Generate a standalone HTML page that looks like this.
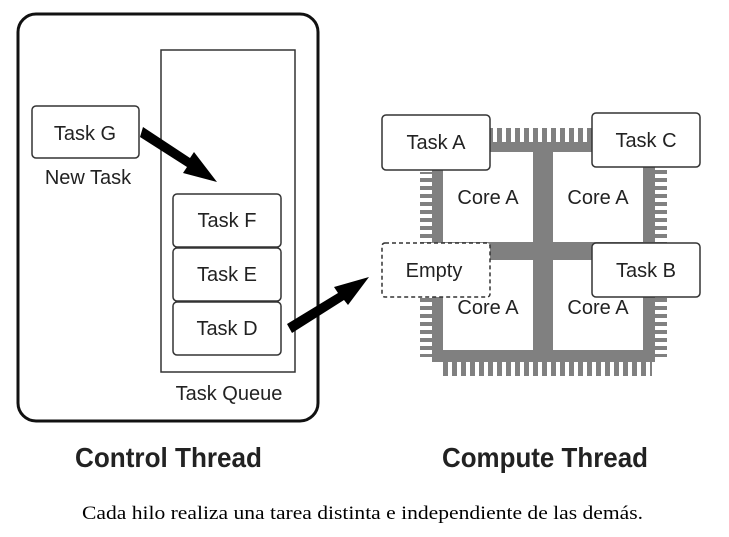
<!DOCTYPE html>
<html><head><meta charset="utf-8"><style>
html,body{margin:0;padding:0;background:#fff;}
svg{display:block;}
.t{font-family:"Liberation Sans Narrow","Liberation Sans",sans-serif;font-size:20px;fill:#222;}
</style></head><body>
<svg width="729" height="537" viewBox="0 0 729 537" xmlns="http://www.w3.org/2000/svg">
<defs>
<pattern id="ph" x="2" y="0" width="9" height="20" patternUnits="userSpaceOnUse"><rect x="0" y="0" width="5" height="20" fill="#808080"/></pattern>
<pattern id="pv" x="0" y="2" width="20" height="8" patternUnits="userSpaceOnUse"><rect x="0" y="0" width="20" height="4" fill="#808080"/></pattern>
</defs>
<!-- control thread -->
<rect x="18" y="14" width="300" height="407" rx="18" fill="none" stroke="#111" stroke-width="3"/>
<rect x="161" y="50" width="134" height="322" fill="none" stroke="#333" stroke-width="1.5"/>
<rect x="32" y="106" width="107" height="52" rx="4" fill="#fff" stroke="#333" stroke-width="1.5"/>
<text class="t" x="85" y="140" text-anchor="middle">Task G</text>
<text class="t" x="88" y="184" text-anchor="middle">New Task</text>
<rect x="173" y="194" width="108" height="53" rx="4" fill="#fff" stroke="#333" stroke-width="1.5"/>
<text class="t" x="227" y="227" text-anchor="middle">Task F</text>
<rect x="173" y="248" width="108" height="53" rx="4" fill="#fff" stroke="#333" stroke-width="1.5"/>
<text class="t" x="227" y="281" text-anchor="middle">Task E</text>
<rect x="173" y="302" width="108" height="53" rx="4" fill="#fff" stroke="#333" stroke-width="1.5"/>
<text class="t" x="227" y="335" text-anchor="middle">Task D</text>
<text class="t" x="229" y="400" text-anchor="middle">Task Queue</text>
<!-- arrows -->
<polygon points="143,127 190,158 194,152 217,182 183,173 187,167 140,137" fill="#000"/>
<polygon points="287,324 338,293 334,287 369,277 348,305 344,300 292,333" fill="#000"/>
<!-- chip -->
<rect x="490" y="128" width="102" height="14" fill="url(#ph)"/>
<rect x="440" y="362" width="212" height="14" fill="url(#ph)"/>
<rect x="420" y="172" width="12" height="74" fill="url(#pv)"/>
<rect x="420" y="297" width="12" height="60" fill="url(#pv)"/>
<rect x="655" y="170" width="12" height="74" fill="url(#pv)"/>
<rect x="655" y="297" width="12" height="60" fill="url(#pv)"/>
<path d="M432,142 H655 V362 H432 Z M443,152 V350 H643 V152 Z" fill="#808080" fill-rule="evenodd"/>
<rect x="533" y="142" width="20" height="220" fill="#808080"/>
<rect x="432" y="242" width="223" height="18" fill="#808080"/>
<text class="t" x="488" y="204" text-anchor="middle">Core A</text>
<text class="t" x="598" y="204" text-anchor="middle">Core A</text>
<text class="t" x="488" y="314" text-anchor="middle">Core A</text>
<text class="t" x="598" y="314" text-anchor="middle">Core A</text>
<rect x="382" y="115" width="108" height="55" rx="4" fill="#fff" stroke="#333" stroke-width="1.5"/>
<text class="t" x="436" y="149" text-anchor="middle">Task A</text>
<rect x="592" y="113" width="108" height="54" rx="4" fill="#fff" stroke="#333" stroke-width="1.5"/>
<text class="t" x="646" y="147" text-anchor="middle">Task C</text>
<rect x="382" y="243" width="108" height="54" rx="3" fill="#fff" stroke="#333" stroke-width="1.5" stroke-dasharray="4,3"/>
<text class="t" x="434" y="277" text-anchor="middle">Empty</text>
<rect x="592" y="243" width="108" height="54" rx="4" fill="#fff" stroke="#333" stroke-width="1.5"/>
<text class="t" x="646" y="277" text-anchor="middle">Task B</text>
<!-- titles -->
<text x="75" y="467" font-family="Liberation Sans Narrow, Liberation Sans, sans-serif" font-weight="bold" font-size="28" fill="#222" textLength="187" lengthAdjust="spacingAndGlyphs">Control Thread</text>
<text x="442" y="467" font-family="Liberation Sans Narrow, Liberation Sans, sans-serif" font-weight="bold" font-size="28" fill="#222" textLength="206" lengthAdjust="spacingAndGlyphs">Compute Thread</text>
<text x="82" y="519" font-family="Liberation Serif, serif" font-size="19" fill="#000" textLength="561" lengthAdjust="spacingAndGlyphs">Cada hilo realiza una tarea distinta e independiente de las demás.</text>
</svg>
</body></html>
